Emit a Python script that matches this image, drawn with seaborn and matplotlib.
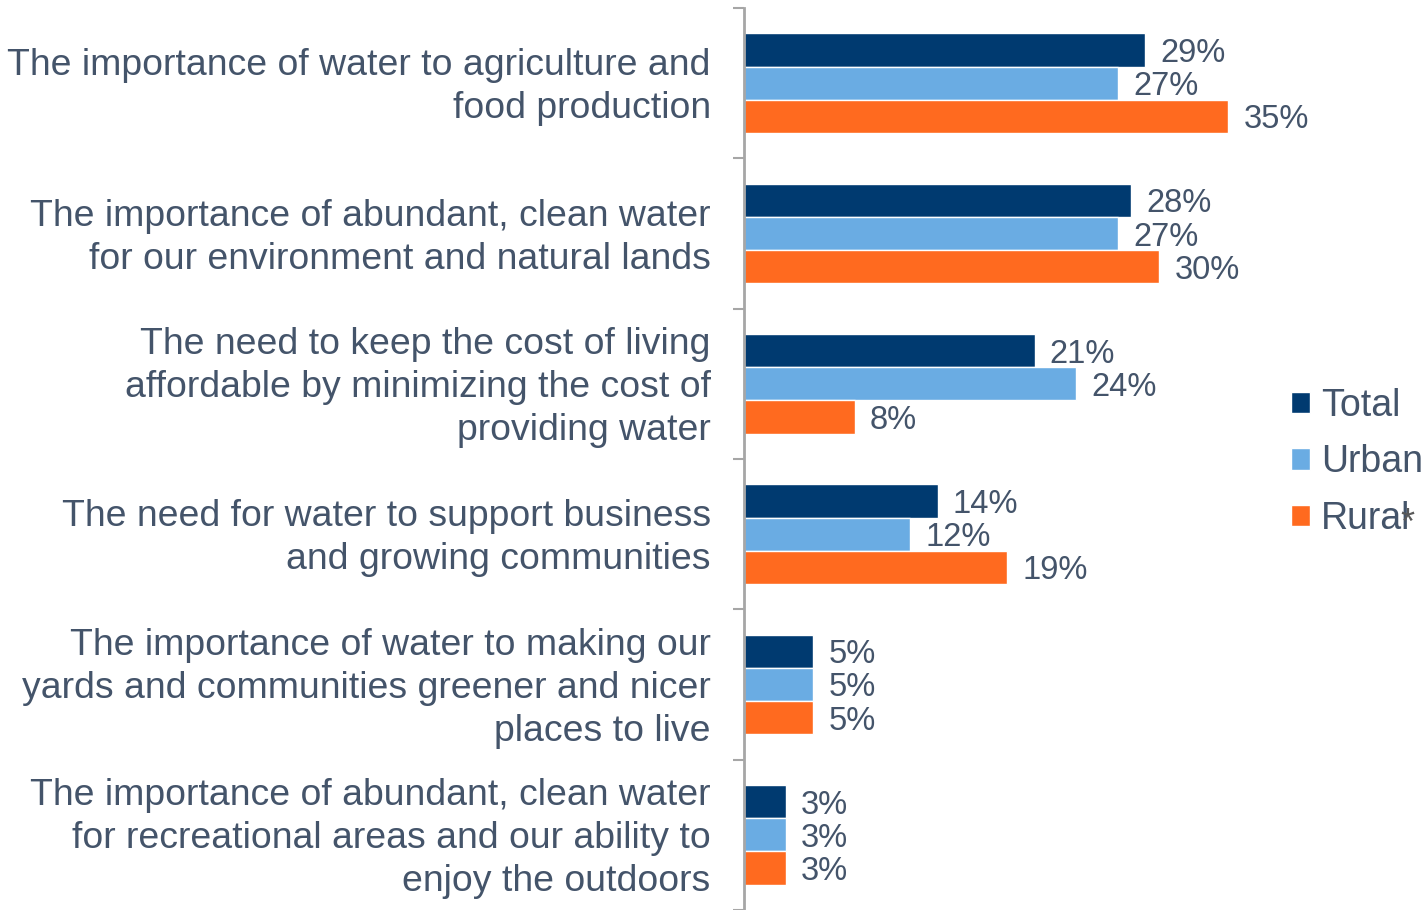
import pandas as pd
import matplotlib.pyplot as plt
import matplotlib.transforms as mtrans
import seaborn as sns
from matplotlib.ticker import FixedLocator

# Chart values
categories = [
    'The importance of water to agriculture and\nfood production',
    'The importance of abundant, clean water\nfor our environment and natural lands',
    'The need to keep the cost of living\naffordable by minimizing the cost of\nproviding water',
    'The need for water to support business\nand growing communities',
    'The importance of water to making our\nyards and communities greener and nicer\nplaces to live',
    'The importance of abundant, clean water\nfor recreational areas and our ability to\nenjoy the outdoors',
]
groups = ['Total', 'Urban', 'Rural']
total = [29, 28, 21, 14, 5, 3]
urban = [27, 27, 24, 12, 5, 3]
rural = [35, 30, 8, 19, 5, 3]

colors = ['#003A70', '#6AACE3', '#FF6A1F']
text_color = '#44546A'

df = pd.DataFrame({
    'Category': categories * 3,
    'Group': [g for g in groups for _ in categories],
    'Value': total + urban + rural,
})

sns.set_style('white')
plt.rcParams['font.family'] = ['Liberation Sans', 'DejaVu Sans']

fig = plt.figure(figsize=(14.22, 9.10), dpi=100)
ax = fig.add_axes([744 / 1422, 0.0, 0.47, 1 - 8 / 910])

sns.barplot(data=df, y='Category', x='Value', hue='Group', orient='h',
            palette=colors, width=0.665, saturation=1, ax=ax)

# value labels
for cont in ax.containers:
    texts = ax.bar_label(cont, labels=[f'{v:.0f}%' for v in cont.datavalues],
                         padding=11, fontsize=23.5, color=text_color)
    for t in texts:
        t.set_verticalalignment('center_baseline')

ax.set_xlim(0, 48.3)
ax.set_ylim(len(categories) - 0.5, -0.5)
ax.set_xlabel('')
ax.set_ylabel('')
ax.set_xticks([])

for s in ['top', 'right', 'bottom']:
    ax.spines[s].set_visible(False)
ax.spines['left'].set_color('#A6A6A6')
ax.spines['left'].set_linewidth(2)

ax.tick_params(axis='y', which='major', length=0, pad=24, labelsize=26.9,
               labelcolor=text_color)
ax.yaxis.set_minor_locator(FixedLocator([i - 0.5 for i in range(len(categories) + 1)]))
ax.tick_params(axis='y', which='minor', length=8, width=1.5, color='#A6A6A6',
               direction='out', left=True)

sns.move_legend(ax, loc='center left', bbox_to_anchor=(1291 / 1422, 0.492),
                bbox_transform=fig.transFigure, frameon=False, title=None,
                fontsize=27, handlelength=0.5, handleheight=0.5, borderpad=0,
                borderaxespad=0, handletextpad=0.3, labelspacing=0.55,
                labelcolor=text_color)
fig.text(1407 / 1422, 1 - 524 / 910, '*', fontsize=26, color='#595959',
         ha='center', va='center')

# nudge category labels up a little
shift = mtrans.ScaledTranslation(0, 4 / 100, fig.dpi_scale_trans)
for lab in ax.get_yticklabels():
    lab.set_horizontalalignment('right')
    lab.set_linespacing(1.3)
    lab.set_transform(lab.get_transform() + shift)

plt.savefig('out.png', dpi=100)
